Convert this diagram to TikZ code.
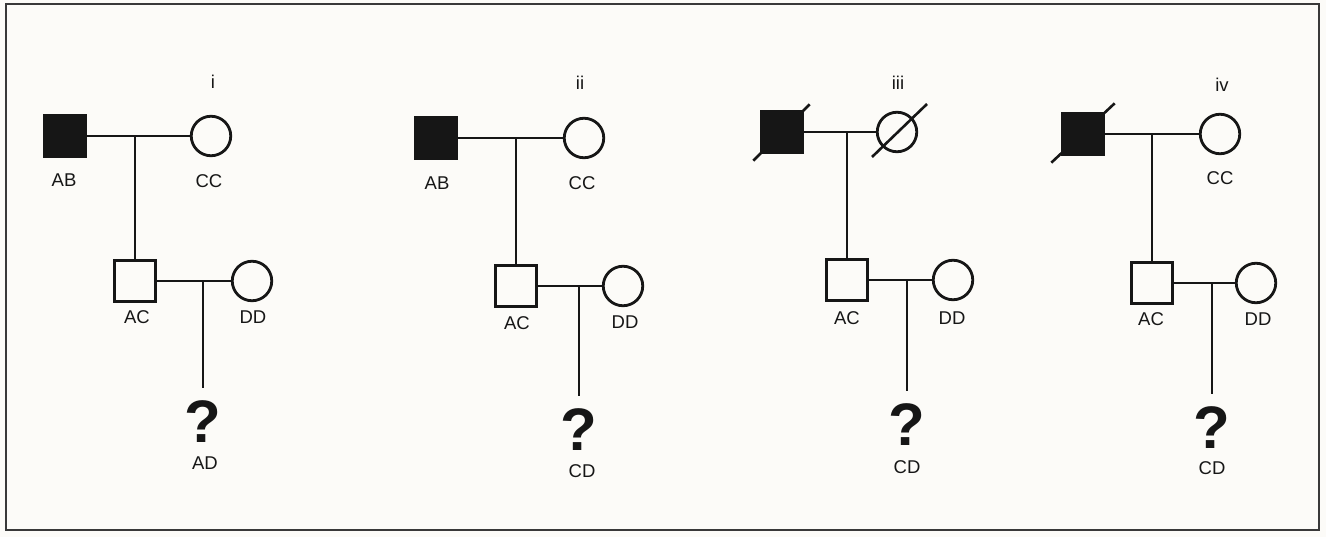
\documentclass[tikz,border=0pt]{standalone}
\usepackage{fontspec}
\setmainfont{Liberation Sans}
\usetikzlibrary{calc}
\definecolor{paper}{RGB}{252,251,248}
\definecolor{ink}{RGB}{22,22,22}
\tikzset{
  male/.style={draw=ink, line width=2.8pt, minimum size=40.5pt, inner sep=0pt, fill=paper},
  affected/.style={male, fill=ink},
  female/.style={circle, draw=ink, line width=2.8pt, minimum size=39.5pt, inner sep=0pt, fill=paper},
  link/.style={draw=ink, line width=2.7pt},
  deceased/.style={draw=ink, line width=2.6pt},
  genotype/.style={font=\fontsize{18.5}{20}\selectfont, text=ink, inner sep=0pt},
  query/.style={font=\fontsize{60}{62}\selectfont\bfseries, text=ink, inner sep=0pt},
  border/.style={draw=ink!85, line width=1.8pt},
}
\begin{document}
\begin{tikzpicture}[x=1pt, y=-1pt]
  % page and frame
  \fill[paper] (0,0) rectangle (1326,537);
  \useasboundingbox (0,0) rectangle (1326,537);
  \draw[border] (6,4) rectangle (1319,530);

  % ---------- pedigree i ----------
  \node[genotype] (t1) at (213,82) {i};
  \draw[link] (65,136) coordinate (x1) -- (211,136) coordinate (y1);
  \node[affected] (f1) at (x1) {};
  \node[female] (m1) at (y1) {};
  \node[male] (c1) at (135,281) {};
  \node[female] (s1) at (252,281) {};
  \node[query] (q1) at (203,422) {?};
  \draw[link] (c1 |- f1) -- (c1);
  \draw[link] (c1) -- (s1);
  \draw[link, shorten >=13pt] (q1 |- s1) -- (q1);
  \node[genotype] (l1a) at (64,180) {AB};
  \node[genotype] (l1b) at (209,181) {CC};
  \node[genotype] (l1c) at (137,317) {AC};
  \node[genotype] (l1d) at (253,317) {DD};
  \node[genotype] (l1e) at (205,463) {AD};

  % ---------- pedigree ii ----------
  \node[genotype] (t2) at (580,83) {ii};
  \draw[link] (436,138) coordinate (x2) -- (584,138) coordinate (y2);
  \node[affected] (f2) at (x2) {};
  \node[female] (m2) at (y2) {};
  \node[male] (c2) at (516,286) {};
  \node[female] (s2) at (623,286) {};
  \node[query] (q2) at (579,430) {?};
  \draw[link] (c2 |- f2) -- (c2);
  \draw[link] (c2) -- (s2);
  \draw[link, shorten >=13pt] (q2 |- s2) -- (q2);
  \node[genotype] (l2a) at (437,183) {AB};
  \node[genotype] (l2b) at (582,183) {CC};
  \node[genotype] (l2c) at (517,323) {AC};
  \node[genotype] (l2d) at (625,322) {DD};
  \node[genotype] (l2e) at (582,471) {CD};

  % ---------- pedigree iii ----------
  \node[genotype] (t3) at (898,83) {iii};
  \draw[link] (782,132) coordinate (x3) -- (897,132) coordinate (y3);
  \node[affected] (f3) at (x3) {};
  \node[female] (m3) at (y3) {};
  \draw[deceased] ($(f3.south west)+(-7,7)$) -- ($(f3.north east)+(6,-6)$);
  \draw[deceased] ($(m3.center)+(-25,25)$) -- ($(m3.center)+(30,-28)$);
  \node[male] (c3) at (847,280) {};
  \node[female] (s3) at (953,280) {};
  \node[query] (q3) at (907,425) {?};
  \draw[link] (c3 |- f3) -- (c3);
  \draw[link] (c3) -- (s3);
  \draw[link, shorten >=13pt] (q3 |- s3) -- (q3);
  \node[genotype] (l3c) at (847,318) {AC};
  \node[genotype] (l3d) at (952,318) {DD};
  \node[genotype] (l3e) at (907,467) {CD};

  % ---------- pedigree iv ----------
  \node[genotype] (t4) at (1222,85) {iv};
  \draw[link] (1083,134) coordinate (x4) -- (1220,134) coordinate (y4);
  \node[affected] (f4) at (x4) {};
  \node[female] (m4) at (y4) {};
  \draw[deceased] ($(f4.south west)+(-10,7)$) -- ($(f4.north east)+(10,-9)$);
  \node[male] (c4) at (1152,283) {};
  \node[female] (s4) at (1256,283) {};
  \node[query] (q4) at (1212,428) {?};
  \draw[link] (c4 |- f4) -- (c4);
  \draw[link] (c4) -- (s4);
  \draw[link, shorten >=13pt] (q4 |- s4) -- (q4);
  \node[genotype] (l4b) at (1220,178) {CC};
  \node[genotype] (l4c) at (1151,319) {AC};
  \node[genotype] (l4d) at (1258,319) {DD};
  \node[genotype] (l4e) at (1212,468) {CD};
\end{tikzpicture}
\end{document}
